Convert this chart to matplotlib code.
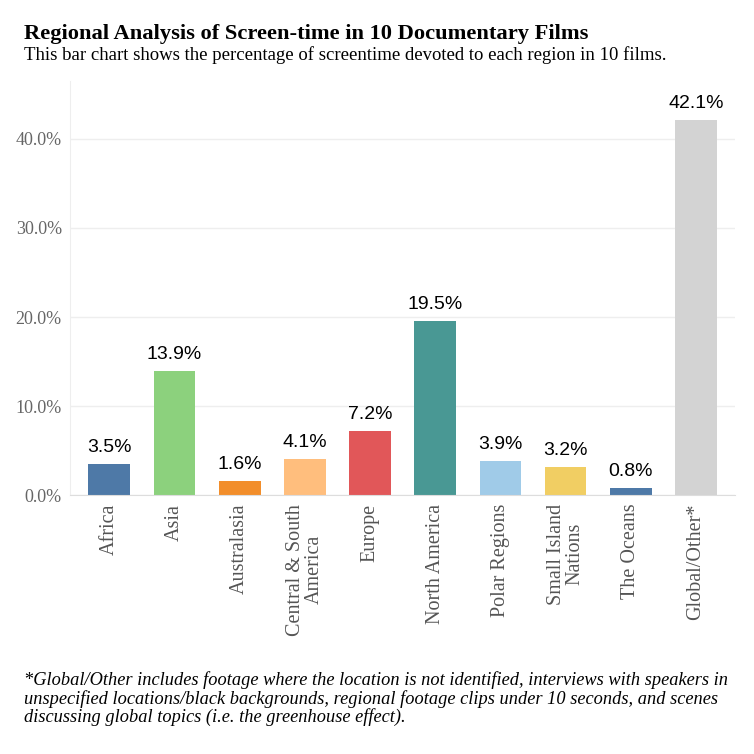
import numpy as np
import matplotlib
matplotlib.use("Agg")
from matplotlib import pyplot as plt

regions = ["Africa", "Asia", "Australasia", "Central & South\nAmerica", "Europe",
           "North America", "Polar Regions", "Small Island\nNations", "The Oceans",
           "Global/Other*"]
shares = [3.5, 13.9, 1.6, 4.1, 7.2, 19.5, 3.9, 3.2, 0.8, 42.1]
colors = ["#4e79a7", "#8cd17d", "#f28e2b", "#ffbe7d", "#e15759",
          "#499894", "#a0cbe8", "#f1ce63", "#4e79a7", "#d3d3d3"]

fig = plt.figure(figsize=(7.54, 7.54), dpi=100)
ax = fig.add_axes([0.093, 0.343, 0.882, 0.55])

ind = np.arange(len(regions))
ax.bar(ind, shares, 0.64, color=colors, zorder=2)
for x, v in zip(ind, shares):
    ax.text(x, v + 0.9, "%.1f%%" % v, ha="center", va="bottom",
            fontname="Liberation Sans", fontsize=14, color="black")

ax.set_xlim(-0.6, len(regions) - 0.4)
ax.set_ylim(0, 46.5)
ax.set_yticks([0, 10, 20, 30, 40])
ax.set_yticklabels(["%.1f%%" % t for t in [0, 10, 20, 30, 40]],
                   fontname="Liberation Serif", fontsize=13, color="#666666")
ax.set_xticks(ind)
ax.set_xticklabels(regions, rotation=90, fontname="Liberation Serif",
                   fontsize=14.5, color="#555555", va="top", ha="center",
                   linespacing=1.0)
ax.tick_params(axis="both", length=0, pad=6)
ax.grid(axis="y", color="#eeeeee", linewidth=1, zorder=0)
for s in ["top", "right"]:
    ax.spines[s].set_visible(False)
ax.spines["left"].set_color("#eeeeee")
ax.spines["bottom"].set_color("#dddddd")

fig.text(0.032, 0.948, "Regional Analysis of Screen-time in 10 Documentary Films",
         fontname="Liberation Serif", fontsize=16.2, fontweight="bold")
fig.text(0.032, 0.92, "This bar chart shows the percentage of screentime devoted to each region in 10 films.",
         fontname="Liberation Serif", fontsize=13.5)
fig.text(0.032, 0.042,
         "*Global/Other includes footage where the location is not identified, interviews with speakers in\n"
         "unspecified locations/black backgrounds, regional footage clips under 10 seconds, and scenes\n"
         "discussing global topics (i.e. the greenhouse effect).",
         fontname="Liberation Serif", fontsize=13.2, style="italic", linespacing=1.05)

fig.savefig("out.png", dpi=100)
